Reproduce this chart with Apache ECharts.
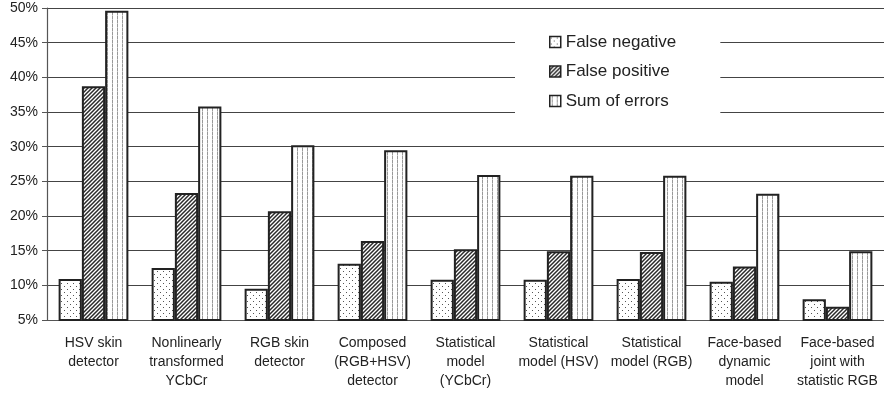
<!DOCTYPE html>
<html>
<head>
<meta charset="utf-8">
<script src="https://cdn.jsdelivr.net/npm/echarts@6/dist/echarts.min.js"></script>
<style>
  html, body { margin: 0; padding: 0; background: #fff; }
  #chart { width: 884px; height: 393px; }
</style>
</head>
<body>
<div id="chart"></div>
<script>
// Skin detector comparison: error rates (percent) per method
const categories = [
  'HSV skin\ndetector',
  'Nonlinearly\ntransformed\nYCbCr',
  'RGB skin\ndetector',
  'Composed\n(RGB+HSV)\ndetector',
  'Statistical\nmodel\n(YCbCr)',
  'Statistical\nmodel (HSV)',
  'Statistical\nmodel (RGB)',
  'Face-based\ndynamic\nmodel',
  'Face-based\njoint with\nstatistic RGB'
];
const falseNegative = [10.9, 12.5, 9.5, 13.1, 10.8, 10.8, 10.9, 10.5, 8.0];
const falsePositive = [38.7, 23.3, 20.7, 16.4, 15.2, 14.9, 14.8, 12.7, 6.9];
const sumOfErrors   = [49.6, 35.8, 30.2, 29.5, 25.9, 25.8, 25.8, 23.2, 14.9];
const seriesNames = ['False negative', 'False positive', 'Sum of errors'];
const yMin = 5, yMax = 50, yStep = 5;

// Monochrome fill patterns
function makeTile(w, h, draw) {
  const c = document.createElement('canvas');
  c.width = w; c.height = h;
  const ctx = c.getContext('2d');
  ctx.fillStyle = '#fff';
  ctx.fillRect(0, 0, w, h);
  draw(ctx);
  return c;
}
const dotTile = makeTile(6, 6, ctx => {
  ctx.fillStyle = '#555';
  ctx.fillRect(1, 1, 1, 1);
  ctx.fillRect(4, 4, 1, 1);
});
const hatchTile = makeTile(4, 4, ctx => {
  ctx.strokeStyle = '#2a2a2a';
  ctx.lineWidth = 1.5;
  ctx.beginPath();
  ctx.moveTo(-1, 1); ctx.lineTo(1, -1);
  ctx.moveTo(0, 4); ctx.lineTo(4, 0);
  ctx.moveTo(3, 5); ctx.lineTo(5, 3);
  ctx.stroke();
});
const stripeTile = makeTile(5, 4, ctx => {
  ctx.fillStyle = '#999';
  ctx.fillRect(2, 0, 1, 3);
  ctx.fillStyle = '#c8c8c8';
  ctx.fillRect(2, 3, 1, 1);
});
const patterns = [dotTile, hatchTile, stripeTile];
const values = [falseNegative, falsePositive, sumOfErrors];

const chart = echarts.init(document.getElementById('chart'), null, { renderer: 'canvas' });
const font = 'Liberation Sans, Arial, sans-serif';

chart.setOption({
  animation: false,
  backgroundColor: '#fff',
  textStyle: { fontFamily: font },
  grid: { left: 47, right: 0, top: 8, bottom: 73 },
  legend: {
    orient: 'vertical',
    left: 515,
    top: 24,
    padding: [8, 44, 8, 34],
    backgroundColor: '#fff',
    itemWidth: 11,
    itemHeight: 11,
    itemGap: 9.5,
    icon: 'rect',
    textStyle: { fontSize: 17, color: '#222', fontFamily: font, lineHeight: 20 },
    itemStyle: { borderColor: '#222', borderWidth: 1.5 },
    data: seriesNames
  },
  xAxis: {
    type: 'category',
    data: categories,
    axisLine: { lineStyle: { color: '#555', width: 1.2 } },
    axisTick: { length: 5, lineStyle: { color: '#555' } },
    axisLabel: {
      interval: 0,
      fontSize: 14,
      lineHeight: 19,
      color: '#222',
      margin: 14,
      fontFamily: font
    }
  },
  yAxis: {
    type: 'value',
    min: yMin,
    max: yMax,
    interval: yStep,
    axisLine: { show: true, lineStyle: { color: '#555', width: 1.2 } },
    axisTick: { show: true, length: 5, lineStyle: { color: '#555' } },
    axisLabel: {
      formatter: '{value}%',
      fontSize: 14,
      color: '#222',
      margin: 9,
      fontFamily: font
    },
    splitLine: { lineStyle: { color: '#444', width: 1.2 } }
  },
  series: seriesNames.map((name, i) => ({
    name,
    type: 'bar',
    data: values[i],
    barGap: '0%',
    barCategoryGap: '25%',
    itemStyle: {
      color: { image: patterns[i], repeat: 'repeat' },
      borderColor: '#222',
      borderWidth: 2
    }
  }))
});
</script>
</body>
</html>
